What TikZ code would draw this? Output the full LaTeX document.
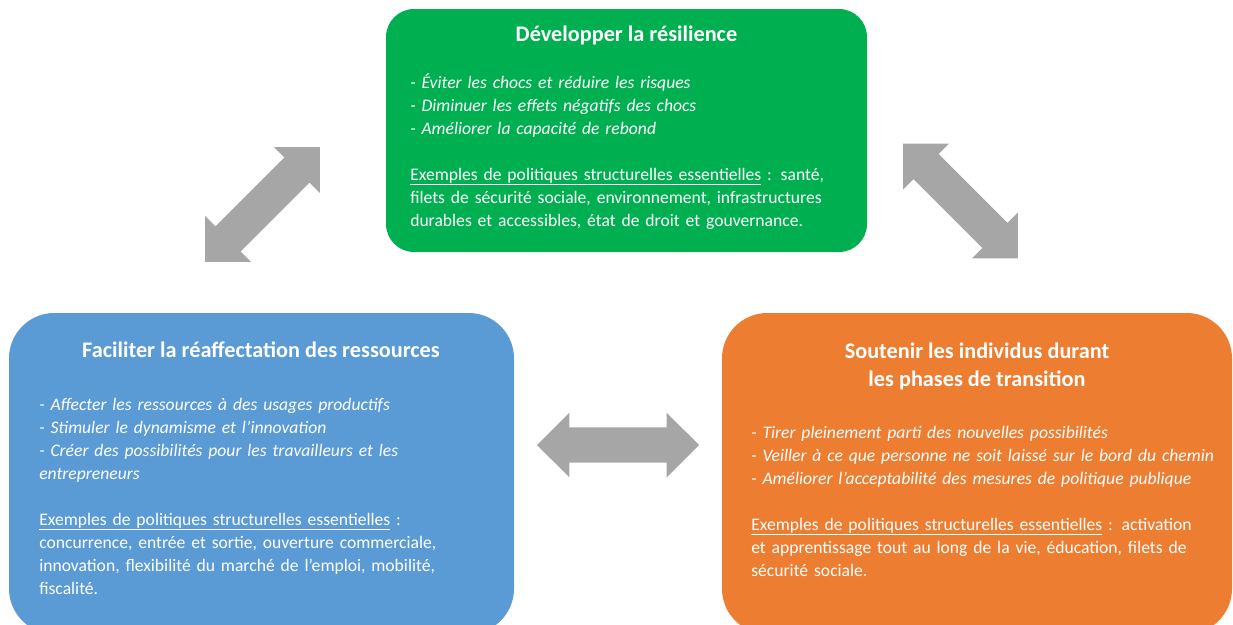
\documentclass[tikz,border=0pt]{standalone}
\usepackage{fontspec}
\setmainfont{Carlito}
\usetikzlibrary{shapes.arrows}

\definecolor{vertresil}{HTML}{00B050}
\definecolor{bleurealloc}{HTML}{5B9BD5}
\definecolor{orangetrans}{HTML}{ED7D31}
\definecolor{grisfleche}{HTML}{A6A6A6}

\begin{document}
\begin{tikzpicture}[x=0.75pt,y=-0.75pt,
  boite/.style={rounded corners=#1, inner sep=0pt},
  titre/.style={text=white, align=center, font=\fontsize{16.7}{21}\selectfont\bfseries},
  corps/.style={text=white, align=left, text width=380pt, inner sep=0pt, anchor=base west,
    font=\fontsize{13.2}{17.25}\selectfont},
  fleche/.style={double arrow, fill=grisfleche, inner xsep=0pt, inner ysep=13.1pt,
    minimum height=121.5pt, double arrow head extend=10.9pt}]

\useasboundingbox (0,0) rectangle (1233,625);
\clip (0,0) rectangle (1233,625);

% Boxes
\fill[vertresil, boite=21pt] (386,9) rectangle (867,252);
\fill[bleurealloc, boite=34pt] (9,313) rectangle (514,634);
\fill[orangetrans, boite=34pt] (722,313) rectangle (1232,634);

% Top box
\node[titre] (titreresil) at (626.5,35) {Développer la résilience};
\node[corps] (corpsresil) at (410,88) {\textit{- Éviter les chocs et réduire les risques}\\
\textit{- Diminuer les effets négatifs des chocs}\\
\textit{- Améliorer la capacité de rebond}\\[17.25pt]
\underline{Exemples de politiques structurelles essentielles} : santé,\\
filets de sécurité sociale, environnement, infrastructures\\
durables et accessibles, état de droit et gouvernance.};

% Left box
\node[titre] (titrerealloc) at (261,350) {Faciliter la réaffectation des ressources};
\node[corps] (corpsrealloc) at (39,410) {\textit{- Affecter les ressources à des usages productifs}\\
\textit{- Stimuler le dynamisme et l’innovation}\\
\textit{- Créer des possibilités pour les travailleurs et les}\\
\textit{entrepreneurs}\\[17.25pt]
\underline{Exemples de politiques structurelles essentielles} :\\
concurrence, entrée et sortie, ouverture commerciale,\\
innovation, flexibilité du marché de l’emploi, mobilité,\\
fiscalité.};

% Right box
\node[titre] (titretrans) at (977,366) {Soutenir les individus durant\\les phases de transition};
\node[corps] (corpstrans) at (751,438) {\textit{- Tirer pleinement parti des nouvelles possibilités}\\
\textit{- Veiller à ce que personne ne soit laissé sur le bord du chemin}\\
\textit{- Améliorer l’acceptabilité des mesures de politique publique}\\[17.25pt]
\underline{Exemples de politiques structurelles essentielles} : activation\\
et apprentissage tout au long de la vie, éducation, filets de\\
sécurité sociale.};

% Arrows
\node[fleche, rotate=45] (flechegauche) at (262.5,204.5) {};
\node[fleche, rotate=-45] (flechedroite) at (960.5,201) {};
\node[fleche] (flechebas) at (618,445) {};

\end{tikzpicture}
\end{document}
